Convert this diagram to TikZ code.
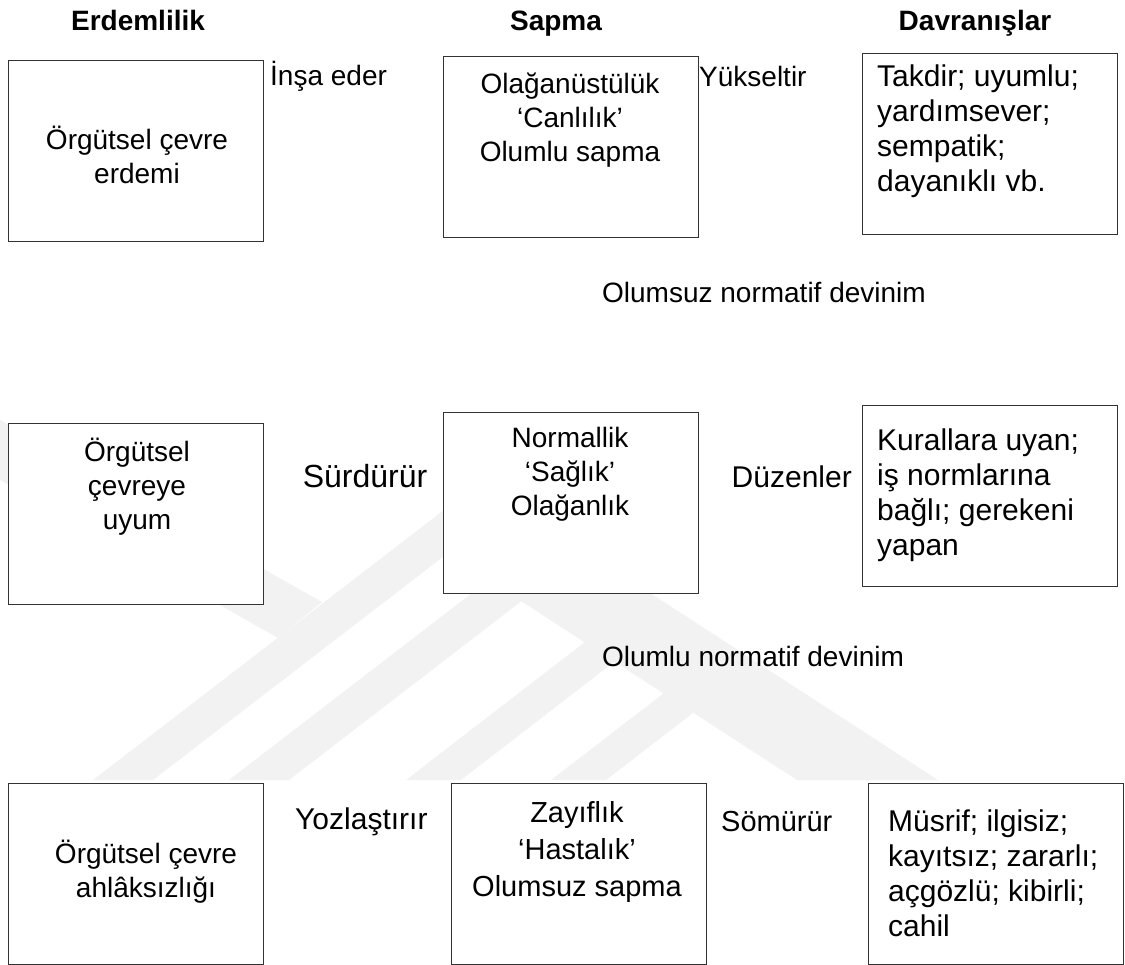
\documentclass[tikz,border=0pt]{standalone}
\usepackage{fontspec}
\setmainfont{Liberation Sans}
\tikzset{
  box/.style={draw=black!80, fill=white, line width=1.1pt, minimum width=255pt, minimum height=181pt, inner sep=0pt, anchor=north west},
  txt/.style={font=\fontsize{28}{34}\selectfont, inner sep=0pt, align=center},
  ltxt/.style={font=\fontsize{30}{35}\selectfont, inner sep=0pt, align=left, anchor=west},
  lbl/.style={font=\fontsize{28}{34}\selectfont, inner sep=0pt},
  head/.style={font=\bfseries\fontsize{28}{34}\selectfont, inner sep=0pt, anchor=base},
  wm/.style={fill=black!5, draw=none},
}
\begin{document}
\begin{tikzpicture}[x=1pt, y=-1pt]
\useasboundingbox (0,0) rectangle (1125,965);
% faint watermark
\begin{scope}
\clip (0,0) rectangle (1125,965);
\fill[wm] (-5,417) -- (322,602) -- (278,638) -- (-5,477) -- cycle;
\fill[wm] (93,780) -- (153,780) -- (556,470) -- (496,470) -- cycle;
\fill[wm] (229,780) -- (289,780) -- (575,560) -- (515,560) -- cycle;
\fill[wm] (406,780) -- (461,780) -- (675,615) -- (620,615) -- cycle;
\fill[wm] (551,780) -- (606,780) -- (736,680) -- (681,680) -- cycle;
\fill[wm] (470,476) -- (470,568) -- (797,780) -- (938,780) -- cycle;
\end{scope}
% headers
\node[head] (h1) at (138,31) {Erdemlilik};
\node[head] (h2) at (556,31) {Sapma};
\node[head] (h3) at (975,31) {Davranışlar};
% row 1
\node[box] (a1) at (8,60) {};
\node[box] (a2) at (443,56) {};
\node[box] (a3) at (862,53) {};
\node[txt] (ta1) at (137,155) {Örgütsel çevre\\erdemi};
\node[txt] (ta2) at (570,120) {Olağanüstülük\\‘Canlılık’\\Olumlu sapma};
\node[ltxt] (ta3) at (877,131) {Takdir; uyumlu;\\yardımsever;\\sempatik;\\dayanıklı vb.};
\node[lbl, anchor=west] (l1) at (270,76) {İnşa eder};
\node[lbl, anchor=west] (l2) at (699,76) {Yükseltir};
\node[lbl] (m1) at (764,292) {Olumsuz normatif devinim};
% row 2
\node[box] (b1) at (8,423) {};
\node[box] (b2) at (443,412) {};
\node[box] (b3) at (862,405) {};
\node[txt] (tb1) at (137,487) {Örgütsel\\çevreye\\uyum};
\node[txt] (tb2) at (570,474) {Normallik\\‘Sağlık’\\Olağanlık};
\node[ltxt] (tb3) at (877,495) {Kurallara uyan;\\iş normlarına\\bağlı; gerekeni\\yapan};
\node[lbl, font=\fontsize{32}{36}\selectfont] (l3) at (365,476) {Sürdürür};
\node[lbl, anchor=east, font=\fontsize{30}{34}\selectfont] (l4) at (852,477) {Düzenler};
\node[lbl] (m2) at (753,656) {Olumlu normatif devinim};
% row 3
\node[box] (c1) at (8,783) {};
\node[box] (c2) at (451,783) {};
\node[box] (c3) at (868,783) {};
\node[txt] (tc1) at (146,872) {Örgütsel çevre\\ahlâksızlığı};
\node[txt, font=\fontsize{29}{37}\selectfont] (tc2) at (577,852) {Zayıflık\\‘Hastalık’\\Olumsuz sapma};
\node[ltxt] (tc3) at (888,873) {Müsrif; ilgisiz;\\kayıtsız; zararlı;\\açgözlü; kibirli;\\cahil};
\node[lbl, anchor=west, font=\fontsize{30}{34}\selectfont] (l5) at (295,822) {Yozlaştırır};
\node[lbl, anchor=west, font=\fontsize{29}{34}\selectfont] (l6) at (721,822) {Sömürür};
\end{tikzpicture}
\end{document}
